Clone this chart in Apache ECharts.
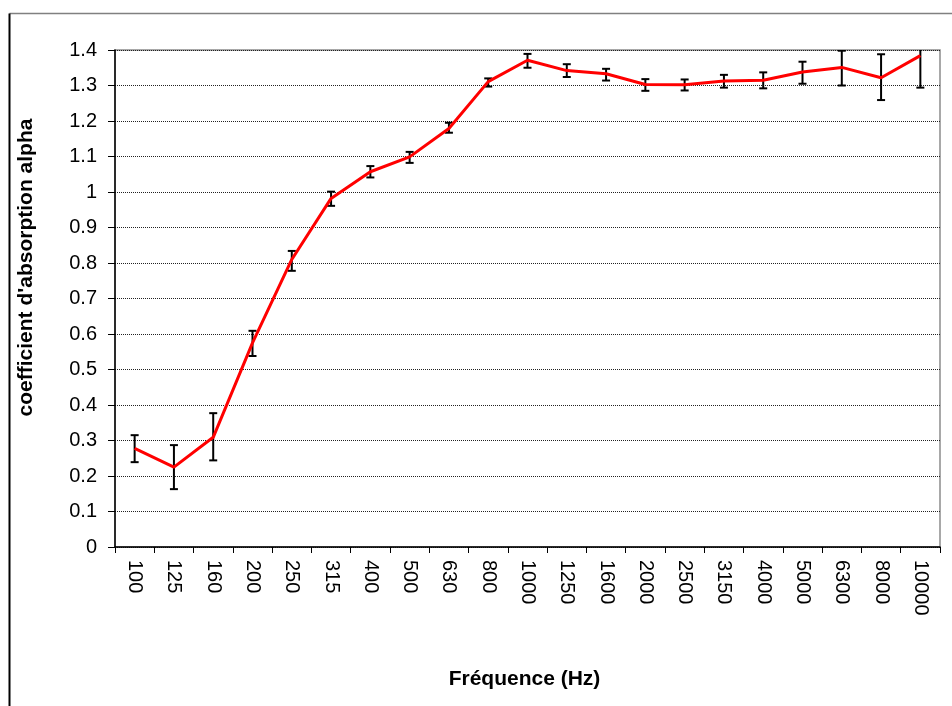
<!DOCTYPE html>
<html>
<head>
<meta charset="utf-8">
<script src="https://cdn.jsdelivr.net/npm/echarts@6/dist/echarts.min.js"></script>
<style>
html,body{margin:0;padding:0;background:#fff;}
#chart{width:952px;height:706px;}
</style>
</head>
<body>
<div id="chart"></div>
<script>
const categories = ['100','125','160','200','250','315','400','500','630','800','1000','1250','1600','2000','2500','3150','4000','5000','6300','8000','10000'];
const alpha = [0.278, 0.225, 0.309, 0.575, 0.810, 0.982, 1.057, 1.099, 1.179, 1.311, 1.371, 1.342, 1.333, 1.303, 1.302, 1.313, 1.315, 1.338, 1.351, 1.322, 1.384];
const upper = [0.315, 0.287, 0.377, 0.609, 0.834, 1.001, 1.073, 1.113, 1.195, 1.320, 1.389, 1.360, 1.347, 1.318, 1.317, 1.330, 1.337, 1.367, 1.398, 1.388, 1.470];
const lower = [0.239, 0.163, 0.244, 0.538, 0.778, 0.961, 1.041, 1.082, 1.167, 1.297, 1.350, 1.324, 1.314, 1.285, 1.286, 1.294, 1.292, 1.305, 1.300, 1.259, 1.294];
const yTicks = { min: 0, max: 1.4, interval: 0.1 };

const FONT = '"Liberation Sans", Arial, sans-serif';
const chart = echarts.init(document.getElementById('chart'), null, {renderer: 'canvas'});
const errData = categories.map((c, i) => [i, lower[i], upper[i]]);

chart.setOption({
  animation: false,
  backgroundColor: '#fff',
  graphic: [
    {type: 'line', shape: {x1: 9.5, y1: 13.5, x2: 960, y2: 13.5}, style: {stroke: '#808080', lineWidth: 1.5}, silent: true},
    {type: 'line', shape: {x1: 9.5, y1: 13.5, x2: 9.5, y2: 720}, style: {stroke: '#000', lineWidth: 2}, silent: true}
  ],
  grid: {left: 115, right: 12, top: 50, bottom: 159, show: true, borderColor: '#8c8c8c', borderWidth: 1.5, backgroundColor: 'transparent'},
  xAxis: {
    type: 'category',
    data: categories,
    boundaryGap: true,
    name: 'Fréquence (Hz)',
    nameLocation: 'middle',
    nameGap: 122,
    nameTextStyle: {fontFamily: FONT, fontWeight: 'bold', fontSize: 21, color: '#000', padding: [0, 6, 0, 0]},
    axisLine: {lineStyle: {color: '#000', width: 1.5}},
    axisTick: {show: true, length: 6, lineStyle: {color: '#000'}},
    axisLabel: {rotate: -90, margin: 13, fontFamily: FONT, fontSize: 20, color: '#000'},
    splitLine: {show: false}
  },
  yAxis: {
    type: 'value',
    min: yTicks.min,
    max: yTicks.max,
    interval: yTicks.interval,
    name: "coefficient d'absorption alpha",
    nameLocation: 'middle',
    nameGap: 78,
    nameTextStyle: {fontFamily: FONT, fontWeight: 'bold', fontSize: 21, color: '#000', padding: [0, 0, 0, 62]},
    axisLine: {show: true, lineStyle: {color: '#000', width: 1.5}},
    axisTick: {show: true, length: 7, lineStyle: {color: '#000'}},
    axisLabel: {margin: 18, fontFamily: FONT, fontSize: 20, color: '#000'},
    splitLine: {show: true, lineStyle: {color: '#222', type: [1, 1], width: 1}}
  },
  series: [
    {
      type: 'custom',
      name: 'error',
      clip: true,
      z: 2,
      data: errData,
      encode: {x: 0, y: [1, 2]},
      renderItem: function (params, api) {
        const i = api.value(0);
        const lo = api.coord([i, api.value(1)]);
        const hi = api.coord([i, api.value(2)]);
        const hw = 4;
        const st = {stroke: '#000', lineWidth: 2};
        return {
          type: 'group',
          children: [
            {type: 'line', shape: {x1: hi[0], y1: hi[1], x2: lo[0], y2: lo[1]}, style: st},
            {type: 'line', shape: {x1: hi[0] - hw, y1: hi[1], x2: hi[0] + hw, y2: hi[1]}, style: st},
            {type: 'line', shape: {x1: lo[0] - hw, y1: lo[1], x2: lo[0] + hw, y2: lo[1]}, style: st}
          ]
        };
      }
    },
    {
      type: 'line',
      name: 'alpha',
      data: alpha,
      z: 3,
      symbol: 'none',
      lineStyle: {color: '#ff0000', width: 3},
      itemStyle: {color: '#ff0000'}
    }
  ]
});
</script>
</body>
</html>
